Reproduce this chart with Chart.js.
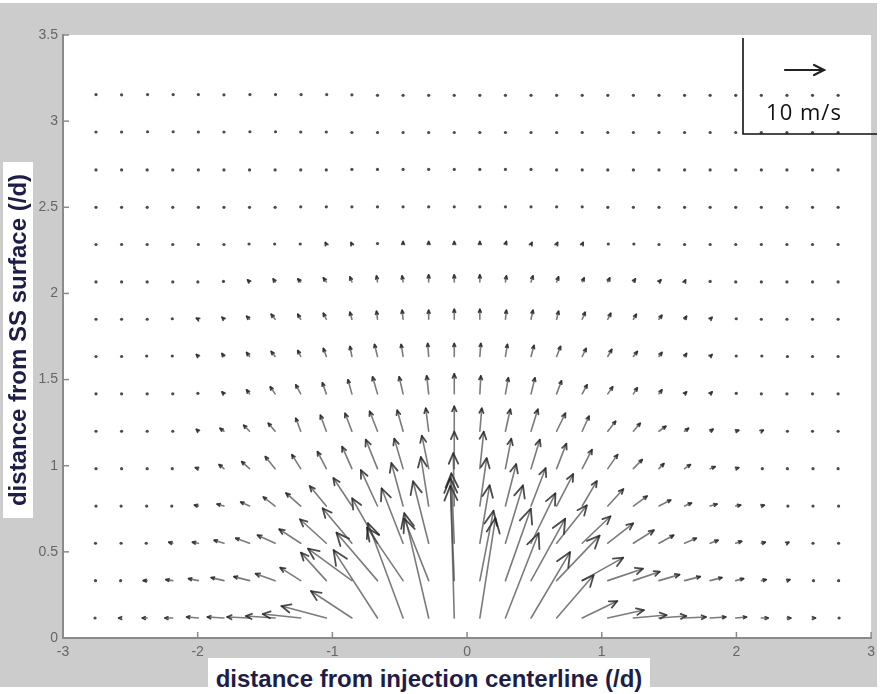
<!DOCTYPE html>
<html>
<head>
<meta charset="utf-8">
<script src="https://cdn.jsdelivr.net/npm/chart.js@4.4.1/dist/chart.umd.min.js"></script>
<style>
html,body{margin:0;padding:0;background:#fff;}
#wrap{position:relative;width:881px;height:694px;overflow:hidden;}
#c{position:absolute;left:0;top:0;}
.ttl{position:absolute;background:#fff;color:#1d1d48;font-family:"Liberation Sans",Arial,sans-serif;font-weight:bold;font-size:24px;white-space:nowrap;text-align:center;}
#xt{left:208px;top:658px;width:442px;height:36px;line-height:42px;}
#yt{left:-160px;top:325px;width:356px;height:30px;line-height:30px;transform:rotate(-90deg);transform-origin:50% 50%;}
#lg{position:absolute;left:744px;top:96px;width:120px;text-align:center;font-family:"Open Sans",sans-serif;font-size:22px;letter-spacing:1px;line-height:30px;color:#111;}
</style>
</head>
<body>
<div id="wrap">
<canvas id="c" width="881" height="694"></canvas>
<div class="ttl" id="xt">distance from injection centerline (/d)</div>
<div class="ttl" id="yt">distance from SS surface (/d)</div>
<div id="lg">10 m/s</div>
</div>
<script>
// grid positions (normalised by d)
const xs = [-2.755,-2.565,-2.375,-2.185,-1.995,-1.805,-1.615,-1.425,-1.235,-1.045,-0.855,-0.665,-0.475,-0.285,-0.095,0.095,0.285,0.475,0.665,0.855,1.045,1.235,1.425,1.615,1.805,1.995,2.185,2.375,2.565,2.755];
const ys = [0.116,0.333,0.550,0.766,0.983,1.200,1.417,1.634,1.850,2.067,2.284,2.500,2.717,2.934,3.150];
const xTickValues = [-3,-2,-1,0,1,2,3];
const yTickValues = [0,0.5,1,1.5,2,2.5,3,3.5];
const legendSpeed = 10; // m/s

// horizontal velocity u (m/s), one array per row (bottom to top)
const u0  = [-0.5,-0.75,-1.25,-2,-3,-4.25,-5.75,-7.5,-9.75,-11.5,-10.5,-11.25,-9,-6.25,-1,4,8.5,10,9.5,9,9.25,8.5,7,5.5,4,2.75,1.75,1,0.75,0.5];
const u1  = [-0.25,-0.5,-1,-1.75,-2.5,-3.25,-4,-5,-5.25,-6.5,-11.25,-10.5,-9.25,-6.25,-1,3.5,6.5,8.75,11,10.5,9,6.75,5.25,4,3,2,1.25,0.75,0.5,0.25];
const u2  = [-0.25,-0.25,-0.5,-1,-1.5,-2.5,-3.5,-4.5,-5.5,-6.75,-7.5,-6.5,-5.5,-4,-0.75,2.5,4.5,6.25,7.75,7.25,6.5,5.25,3.75,3,2,1.5,1,0.5,0.25,0.25];
const u3  = [0,-0.25,-0.25,-0.5,-1,-1.75,-2.25,-3,-3.75,-4.25,-4.75,-4.25,-3,-2,-0.25,1.75,2.75,3.75,4.25,3.75,4,3.5,3,1.75,1.75,1.25,0.75,0.5,0.25,0.25];
const u4  = [0,0,0,-0.25,-0.75,-1.25,-2,-2.5,-2.25,-2.25,-2.5,-3,-2.25,-1.75,0,1,1.5,2.25,2.5,2.5,2.5,2.25,1.25,1.5,1.25,0.75,0.5,0.25,0.25,0];
const u5  = [0,0,0,0,-0.5,-1,-1.5,-1.75,-1.25,-1.5,-1.75,-2,-1.5,-0.75,0,0.5,1.25,1.75,2.25,1.75,2,1.75,1.75,1,0.75,0.75,0.5,0.25,0,0];
const u6  = [0,0,0,0,-0.25,-0.5,-0.75,-1.25,-1.25,-1,-1,-1.25,-1,-0.5,0,0.25,0.75,1,1.25,1.25,1.25,1,0.75,0.5,0.5,0.25,0,0,0,0];
const u7  = [0,0,-0.25,-0.25,-0.5,-0.5,-0.75,-1,-0.75,-0.75,-0.5,-0.75,-0.5,-0.25,0,0.25,0.5,0.75,1,1,1,1,0.75,0.5,0.5,0.25,0.25,0.25,0,0];
const u8  = [0,0,0,-0.25,-0.5,-0.5,-0.75,-1,-0.75,-0.75,-0.5,-0.25,-0.25,0,0,0,0.25,0.5,0.5,0.75,0.75,0.75,0.75,0.5,0.5,0.25,0,0,0,0];
const u9  = [0,0,0,0,-0.25,-0.25,-0.5,-0.5,-0.75,-0.75,-0.5,-0.25,-0.25,0,0,0,0.25,0.5,0.5,0.5,0.5,0.5,0.5,0.25,0,0,0,0,0,0];
const u10 = [0,0,0,0,0,0,-0.25,-0.25,-0.25,-0.25,-0.25,0,0,0,0,0,0.25,0.25,0.25,0.25,0.25,0.25,0,0,0,0,0,0,0,0];
const u11 = [0,0,0,0,0,0,0,0,0,0,0,0,0,0,0,0,0,0,0,0,0,0,0,0,0,0,0,0,0,0];
const u12 = [0,0,0,0,0,0,0,0,0,0,0,0,0,0,0,0,0,0,0,0,0,0,0,0,0,0,0,0,0,0];
const u13 = [0,0,0.2,0.2,0,0,0.2,0.2,0,0,0,0,0,0,0,0,0,0,0,0,0,0,0,0,0,0,0,0,0,0];
const u14 = [0,0,0.2,0.2,0,0,0.2,0.2,0.2,0.2,0,0,0,0,0,0,0,0,0,0,0,0,0,0,0,0,0,0,0,0];

// vertical velocity v (m/s), one array per row (bottom to top)
const v0  = [0,0,0,0,0.2,0.2,0.2,0.4,0.8,2.4,5.4,13.6,19,21,28,20,17,13.2,8.6,3.4,1.6,0.6,0.4,0.2,0.2,0.2,0,0,0,0];
const v1  = [0,0,0,0.2,0.4,0.6,0.8,1.4,2.6,5.6,6.4,9.6,10.6,12.4,19,14,14.4,12.4,9,4.6,2.4,1.8,1.2,0.8,0.6,0.4,0.2,0.2,0,0];
const v2  = [0,0,0,0.2,0.2,0.6,1,1.6,2.8,4.8,7,9,11,12.4,14,11.6,11.6,10,7.6,5.4,4,2.6,1.6,1,0.6,0.4,0.2,0.2,0,0];
const v3  = [0,0,0,0,0.2,0.4,0.8,1.8,2.6,4,5.6,7.2,8.6,9.8,10.6,9.6,8.4,7.6,6.4,5,3.4,2,1.2,0.6,0.4,0.2,0.2,0,0,0];
const v4  = [0,0,0,0,0.2,0.8,1.4,2.4,2.8,3.4,4.4,5.8,6,6.6,7.4,7.4,6,5.8,5,3.8,2.8,1.8,1,0.8,0.4,0.2,0,0,0,0];
const v5  = [0,0,0,0,0.4,0.6,1.2,1.6,2.6,3.2,3.6,4,4.2,4.6,5,4.6,4.4,4.4,3.6,3,2,1.6,1,0.6,0.4,0.2,0.2,0,0,0];
const v6  = [0,0,0,0,0.2,0.4,0.8,1.4,1.8,2.2,2.8,3.4,3.4,3.6,4,3.6,3.2,3.2,2.6,1.8,1.4,1.2,0.8,0.4,0.4,0.2,0,0,0,0];
const v7  = [0,0,0.2,0.2,0.4,0.6,0.8,1,1.2,1.6,2,2.4,2.4,2.6,2.6,2.6,2.4,2.2,2,1.6,1.4,1,0.8,0.6,0.4,0.2,0.2,0,0,0];
const v8  = [0,0,0,0.2,0.2,0.4,0.6,1,1,1.2,1.4,1.6,1.8,1.8,2,2,1.8,1.8,1.6,1.4,1.2,1,0.8,0.6,0.4,0.2,0,0,0,0];
const v9  = [0,0,0,0,0,0.2,0.4,0.6,0.6,0.8,1,1.2,1.2,1.4,1.4,1.4,1.2,1.2,1,0.8,0.8,0.6,0.4,0.4,0.2,0,0,0,0,0];
const v10 = [0,0,0,0,0,0,0.2,0.2,0.2,0.4,0.4,0.4,0.6,0.6,0.6,0.6,0.6,0.4,0.4,0.4,0.2,0.2,0,0,0,0,0,0,0,0];
const v11 = [0,0,0,0,0,0,0,0,0.2,0.2,0.2,0.2,0.2,0.2,0.2,0.2,0.2,0.2,0.2,0.2,0,0,0,0,0,0,0,0,0,0];
const v12 = [0,0,0,0,0,0,0,0,0,0,0.2,0.2,0.2,0.2,0.2,0.2,0.2,0.2,0,0,0,0,0,0,0,0,0,0,0,0];
const v13 = [0.2,0.2,0.3,0.3,0.2,0.2,0.3,0.3,0.2,0.2,0,0,0,0,0,0,0,0,0,0,0,0,0,0,0,0,0,0,0,0];
const v14 = [0.3,0.2,0.3,0.3,0.3,0.2,0.3,0.3,0.3,0.3,0.2,0,0,0,0,0,0,0,0,0,0,0,0,0,0,0,0,0,0,0];

const U = [u0,u1,u2,u3,u4,u5,u6,u7,u8,u9,u10,u11,u12,u13,u14];
const V = [v0,v1,v2,v3,v4,v5,v6,v7,v8,v9,v10,v11,v12,v13,v14];
const K = 0.029; // axis units per m/s (quiver scale)

const tails = [];
ys.forEach((y, j) => xs.forEach((x, i) => tails.push({x: x, y: y, u: U[j][i], v: V[j][i]})));

function arrow(ctx, x0, y0, x1, y1, shaftColor, headColor, maxHead) {
  const dx = x1 - x0, dy = y1 - y0, L = Math.hypot(dx, dy);
  if (L < 2) {
    ctx.fillStyle = headColor;
    ctx.beginPath(); ctx.arc(x0 + dx / 2, y0 + dy / 2, 1.6, 0, Math.PI * 2); ctx.fill();
    return;
  }
  const h = Math.min(maxHead, Math.max(3.2, 0.22 * L));
  const a = Math.atan2(dy, dx), s = 0.42;
  ctx.strokeStyle = shaftColor; ctx.lineWidth = 1.6;
  ctx.beginPath(); ctx.moveTo(x0, y0); ctx.lineTo(x1, y1); ctx.stroke();
  ctx.strokeStyle = headColor; ctx.lineWidth = 1.8;
  ctx.beginPath();
  ctx.moveTo(x1 - h * Math.cos(a - s), y1 - h * Math.sin(a - s));
  ctx.lineTo(x1, y1);
  ctx.lineTo(x1 - h * Math.cos(a + s), y1 - h * Math.sin(a + s));
  ctx.stroke();
}

const quiverPlugin = {
  id: 'quiver',
  beforeDraw(chart) {
    const ctx = chart.ctx, a = chart.chartArea;
    ctx.save();
    ctx.fillStyle = '#ffffff'; ctx.fillRect(0, 0, chart.width, chart.height);
    ctx.fillStyle = '#cccccc'; ctx.fillRect(0, 3, 877, 684);
    ctx.fillStyle = '#ffffff'; ctx.fillRect(a.left, a.top, a.right - a.left, a.bottom - a.top);
    ctx.restore();
  },
  afterDatasetsDraw(chart) {
    const ctx = chart.ctx, xs_ = chart.scales.x, ys_ = chart.scales.y, a = chart.chartArea;
    ctx.save();
    ctx.beginPath(); ctx.rect(a.left, a.top, a.right - a.left, a.bottom - a.top); ctx.clip();
    ctx.lineCap = 'round'; ctx.lineJoin = 'round';
    chart.data.datasets[0].data.forEach(p => {
      const x0 = xs_.getPixelForValue(p.x), y0 = ys_.getPixelForValue(p.y);
      const x1 = xs_.getPixelForValue(p.x + p.u * K), y1 = ys_.getPixelForValue(p.y + p.v * K);
      arrow(ctx, x0, y0, x1, y1, 'rgba(60,60,60,0.68)', 'rgba(30,30,30,0.8)', 16);
    });
    ctx.restore();
  },
  afterDraw(chart) {
    const ctx = chart.ctx, xs_ = chart.scales.x, ys_ = chart.scales.y, a = chart.chartArea;
    ctx.save();
    // inward tick marks
    ctx.strokeStyle = '#8a8a8a'; ctx.lineWidth = 1.5;
    xTickValues.forEach(t => { const px = xs_.getPixelForValue(t); ctx.beginPath(); ctx.moveTo(px, a.bottom); ctx.lineTo(px, a.bottom - 6); ctx.stroke(); });
    yTickValues.forEach(t => { const py = ys_.getPixelForValue(t); ctx.beginPath(); ctx.moveTo(a.left, py); ctx.lineTo(a.left + 6, py); ctx.stroke(); });
    // scale-arrow legend box
    ctx.strokeStyle = '#111'; ctx.lineWidth = 1.6;
    ctx.beginPath(); ctx.moveTo(743, a.top + 3); ctx.lineTo(743, 134); ctx.lineTo(877, 134); ctx.stroke();
    const lx0 = 785, ly = 70;
    const lx1 = lx0 + (xs_.getPixelForValue(legendSpeed * K) - xs_.getPixelForValue(0));
    ctx.strokeStyle = '#222'; ctx.lineWidth = 2.2; ctx.lineCap = 'round';
    ctx.beginPath(); ctx.moveTo(lx0, ly); ctx.lineTo(lx1, ly);
    ctx.moveTo(lx1 - 10, ly - 5); ctx.lineTo(lx1, ly); ctx.lineTo(lx1 - 10, ly + 5); ctx.stroke();
    ctx.restore();
  }
};

const tickFont = {family: 'Liberation Sans', size: 14};
new Chart(document.getElementById('c'), {
  type: 'scatter',
  data: {datasets: [{data: tails, pointRadius: 0, showLine: false}]},
  options: {
    responsive: false, animation: false, devicePixelRatio: 1,
    layout: {padding: {top: 35, right: 5, left: 0, bottom: 0}},
    plugins: {legend: {display: false}, tooltip: {enabled: false}},
    events: [],
    scales: {
      x: {
        type: 'linear', min: -3, max: 3,
        afterBuildTicks: s => { s.ticks = xTickValues.map(v => ({value: v})); },
        afterFit: s => { s.height = 56; },
        grid: {display: false, drawTicks: false},
        border: {display: true, color: '#8a8a8a', width: 2},
        ticks: {color: '#666666', font: tickFont, padding: 6, autoSkip: false, maxRotation: 0, callback: v => String(v)}
      },
      y: {
        type: 'linear', min: 0, max: 3.5,
        afterBuildTicks: s => { s.ticks = yTickValues.map(v => ({value: v})); },
        afterFit: s => { s.width = 63; },
        grid: {display: false, drawTicks: false},
        border: {display: true, color: '#8a8a8a', width: 2},
        ticks: {color: '#666666', font: tickFont, padding: 5, autoSkip: false, callback: v => String(v)}
      }
    }
  },
  plugins: [quiverPlugin]
});
</script>
</body>
</html>
